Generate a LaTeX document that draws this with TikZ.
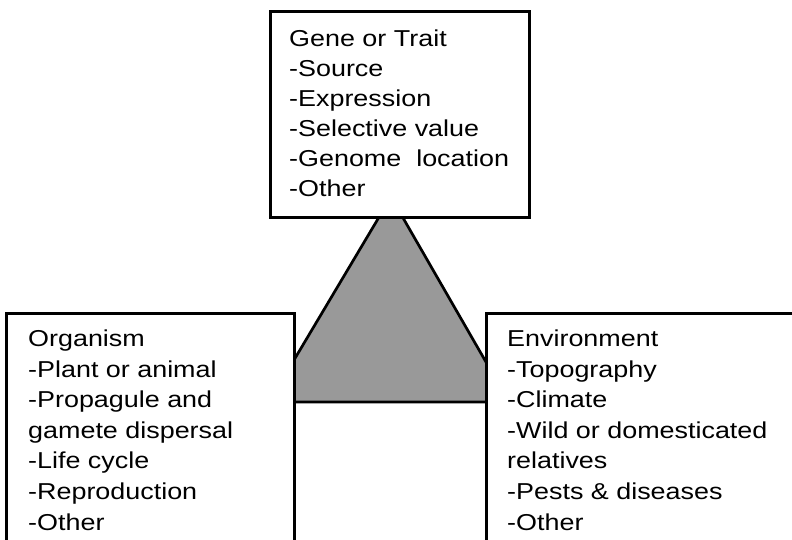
\documentclass[tikz,border=0pt]{standalone}
\usepackage{fontspec}
\setmainfont[FakeStretch=1.17]{Liberation Sans}
\begin{document}
\begin{tikzpicture}[x=1pt,y=-1pt,
  box/.style={draw=black, line width=2.8pt, fill=white, rectangle, inner sep=0pt, anchor=north west},
  label/.style={anchor=base west, inner sep=0pt, align=left, font=\fontsize{23}{30}\selectfont},
  lowlabel/.style={label, font=\fontsize{23}{30.6}\selectfont},
  tri/.style={draw=black, line width=2.7pt, fill={rgb,255:red,153;green,153;blue,153}, line join=miter}]
\useasboundingbox (0,0) rectangle (792,540);
\clip (0,0) rectangle (792,540);
% triangle behind boxes
\coordinate (apex) at (391,197);
\coordinate (bl) at (269,402);
\coordinate (br) at (509,402);
\draw[tri] (apex) -- (bl) -- (br) -- cycle;
% boxes
\node[box, minimum width=259pt, minimum height=206pt] (gene) at (269,10) {};
\node[box, minimum width=288pt, minimum height=300pt] (org) at (5,312) {};
\node[box, minimum width=340pt, minimum height=300pt] (env) at (485,312) {};
% texts (anchored at the baseline of their last line)
\node[label] (genetxt) at (289,196.7) {Gene or Trait\\-Source\\-Expression\\-Selective value\\-Genome\ \ location\\-Other};
\node[lowlabel] (orgtxt) at (28,530) {Organism\\-Plant or animal\\-Propagule and\\gamete dispersal\\-Life cycle\\-Reproduction\\-Other};
\node[lowlabel] (envtxt) at (507,530) {Environment\\-Topography\\-Climate\\-Wild or domesticated\\relatives\\-Pests \& diseases\\-Other};
\end{tikzpicture}
\end{document}
